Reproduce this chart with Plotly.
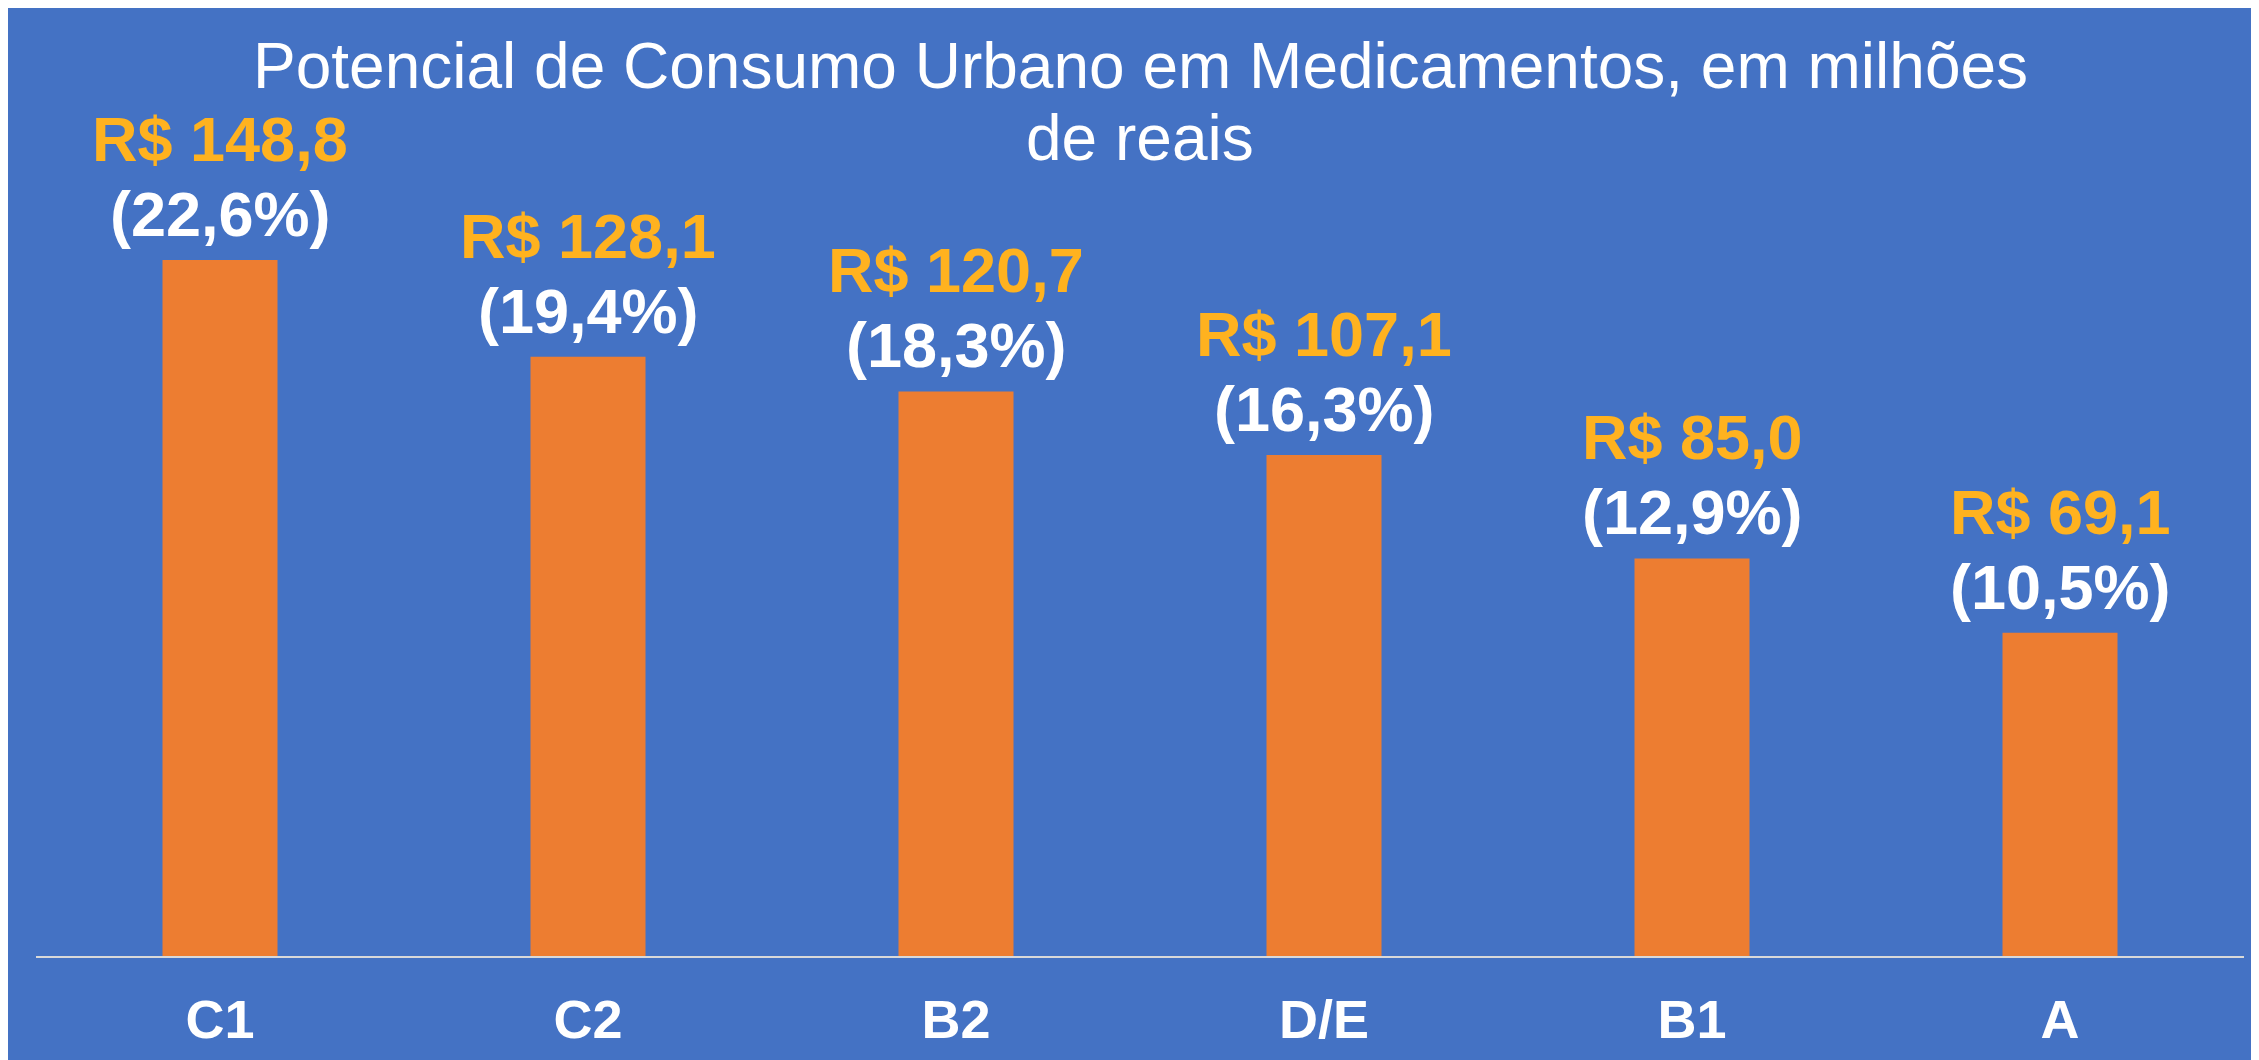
import plotly.graph_objects as go

categories = ["C1", "C2", "B2", "D/E", "B1", "A"]
values = [148.8, 128.1, 120.7, 107.1, 85.0, 69.1]
percents = [22.6, 19.4, 18.3, 16.3, 12.9, 10.5]
title_lines = ["Potencial de Consumo Urbano em Medicamentos, em milhões", "de reais"]

# The page body has an 8px default margin; positions below are page pixels
# minus that offset.
OFF = 8
W, H = 2259 - OFF, 1060 - OFF
ML, MR = 36 - OFF, 15
MT = 100 - OFF
PLOT_BOTTOM = 956 - OFF
MB = H - PLOT_BOTTOM
PW, PH = W - ML - MR, PLOT_BOTTOM - MT
PX_PER_UNIT = 696 / 148.8
YMAX = PH / PX_PER_UNIT

BLUE = "#4472C4"
ORANGE = "#ED7D31"
GOLD = "#FFB21F"
FONT = "Liberation Sans, Arial, sans-serif"


def px_to_paper_y(py):
    return (PLOT_BOTTOM - py) / PH


fig = go.Figure()
fig.add_trace(go.Bar(
    x=categories, y=values, marker=dict(color=ORANGE, line=dict(width=0)),
    hoverinfo="skip",
))

annotations = []
for c, v, p in zip(categories, values, percents):
    annotations.append(dict(
        x=c, y=v, xref="x", yref="y", showarrow=False,
        text=f"R$ {v:.1f}".replace(".", ","),
        font=dict(family=FONT, size=63, color=GOLD, weight="bold"),
        yanchor="middle", xanchor="center", yshift=121,
    ))
    annotations.append(dict(
        x=c, y=v, xref="x", yref="y", showarrow=False,
        text=f"({p:.1f}%)".replace(".", ","),
        font=dict(family=FONT, size=63, color="white", weight="bold"),
        yanchor="middle", xanchor="center", yshift=46,
    ))

title_centers = [66 - OFF, 138 - OFF]
for line, cy in zip(title_lines, title_centers):
    annotations.append(dict(
        x=0.5, y=px_to_paper_y(cy), xref="paper", yref="paper", showarrow=False,
        text=line, font=dict(family=FONT, size=64, color="white"),
        yanchor="middle", xanchor="center",
    ))

fig.update_layout(
    width=W, height=H,
    margin=dict(l=ML, r=MR, t=MT, b=MB, pad=0, autoexpand=False),
    paper_bgcolor=BLUE,
    plot_bgcolor=BLUE,
    bargap=0.6875,
    showlegend=False,
    annotations=annotations,
    xaxis=dict(
        showline=True, linecolor="#D9D9D9", linewidth=2,
        showgrid=False, zeroline=False, ticks="", automargin=False,
        tickfont=dict(family=FONT, size=54, color="white", weight="bold"),
        ticklabelstandoff=15,
    ),
    yaxis=dict(
        range=[0, YMAX], visible=False, showgrid=False, zeroline=False,
        automargin=False,
    ),
)

fig.write_html("out.html")
